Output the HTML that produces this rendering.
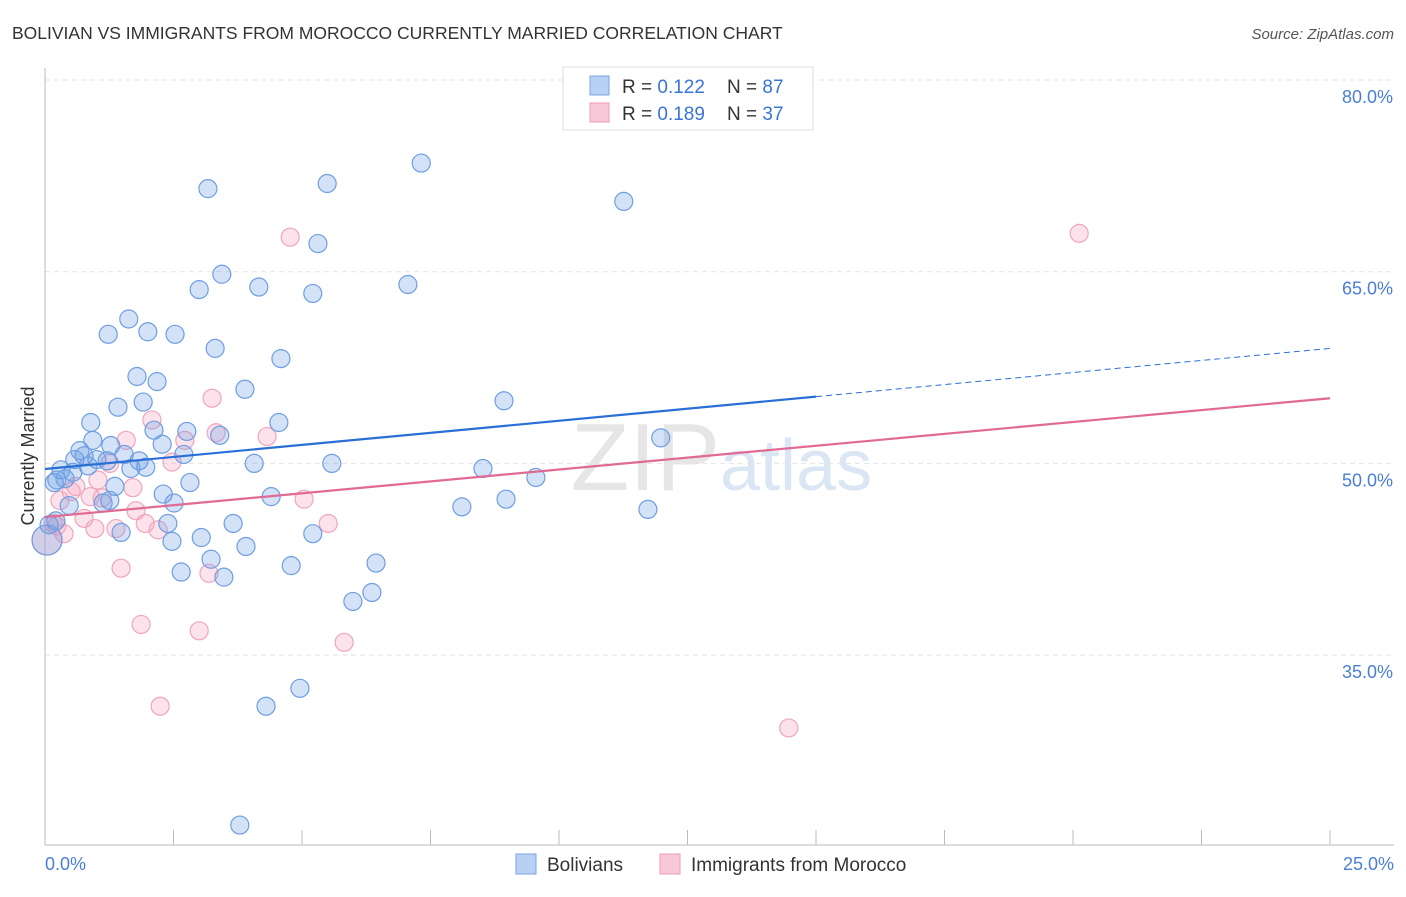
<!DOCTYPE html>
<html><head><meta charset="utf-8"><style>
body{margin:0;background:#fff;font-family:"Liberation Sans",sans-serif;}
svg text{font-family:"Liberation Sans",sans-serif;}
</style></head><body>
<svg id="chart" width="1406" height="892" xmlns="http://www.w3.org/2000/svg">
<text x="12" y="39" font-size="17.5" fill="#333">BOLIVIAN VS IMMIGRANTS FROM MOROCCO CURRENTLY MARRIED CORRELATION CHART</text>
<text x="1394" y="39" font-size="15" fill="#555" font-style="italic" text-anchor="end">Source: ZipAtlas.com</text>
<text x="720" y="490" font-size="96" fill="#e6e6e6" text-anchor="end" font-family="Liberation Serif">ZIP</text>
<text x="720" y="490" font-size="72" fill="#dbe6f5">atlas</text>
<g id="grid"></g><g id="axes"></g>
<g id="pts"></g><g id="lines"></g>
<text transform="translate(34,456) rotate(-90)" font-size="18" fill="#333" text-anchor="middle">Currently Married</text>
<g>
<rect x="563" y="67" width="250" height="63" fill="#fff" stroke="#ddd"/>
<rect x="590" y="76" width="19" height="19" fill="#b8d0f3" stroke="#7aa3e0"/>
<text x="622" y="93" font-size="19" fill="#333">R = <tspan fill="#3a74d9">0.122</tspan></text>
<text x="727" y="93" font-size="19" fill="#333">N = <tspan fill="#3a74d9">87</tspan></text>
<rect x="590" y="103" width="19" height="19" fill="#f9c8d8" stroke="#ee9bb7"/>
<text x="622" y="120" font-size="19" fill="#333">R = <tspan fill="#3a74d9">0.189</tspan></text>
<text x="727" y="120" font-size="19" fill="#333">N = <tspan fill="#3a74d9">37</tspan></text>
</g>
<g>
<rect x="516" y="854" width="20" height="20" fill="#b8d0f3" stroke="#7aa3e0"/>
<text x="547" y="871" font-size="19" fill="#333">Bolivians</text>
<text x="691" y="871" font-size="19" fill="#333">Immigrants from Morocco</text>
<rect x="660" y="854" width="20" height="20" fill="#f9c8d8" stroke="#ee9bb7"/>
</g>
</svg>
<script>
const blueX=[7.32,5.49,3.17,11.26,5.31,3.44,4.16,3.0,5.21,7.06,1.63,1.23,2.0,2.53,3.31,4.59,1.79,2.18,3.89,1.42,1.91,8.93,0.89,4.55,2.12,2.76,3.40,0.93,1.28,2.28,2.70,0.68,0.76,1.01,1.54,1.83,1.96,1.67,4.07,5.58,11.98,8.52,9.55,0.31,0.54,0.39,0.18,1.36,2.82,2.30,4.40,8.97,1.13,2.51,0.47,8.11,11.73,0.21,2.39,3.66,1.48,2.47,3.04,3.91,5.21,3.23,6.44,4.79,2.65,3.48,6.36,5.99,4.96,4.30,3.79,0.23,0.84,0.08,1.21,0.58,1.26,0.04];
const blueY=[73.5,71.9,71.5,70.5,67.2,64.8,63.8,63.6,63.3,64.0,61.3,60.1,60.3,60.1,59.0,58.2,56.8,56.4,55.8,54.4,54.8,54.9,53.2,53.2,52.6,52.5,52.2,51.8,51.4,51.5,50.7,51.0,50.6,50.3,50.7,50.2,49.7,49.6,50.0,50.0,52.0,49.6,48.9,49.5,49.3,48.8,48.5,48.2,48.5,47.6,47.4,47.2,46.9,46.9,46.7,46.6,46.4,45.5,45.3,45.3,44.6,43.9,44.2,43.5,44.5,42.5,42.2,42.0,41.5,41.1,39.9,39.2,32.4,31.0,21.7,48.7,49.8,45.2,50.2,50.3,47.1,44.0];
const pinkX=[20.12,4.77,3.25,2.08,1.58,2.72,3.33,4.32,2.47,1.26,1.03,1.71,0.51,0.88,1.11,0.29,5.04,1.77,0.76,1.95,0.23,0.97,2.20,1.38,5.51,0.37,1.48,3.19,1.87,3.0,5.82,2.24,14.47,0.16,0.60,0.04];
const pinkY=[68.0,67.7,55.1,53.4,51.8,51.8,52.4,52.1,50.1,50.0,48.7,48.1,47.8,47.4,47.3,47.1,47.2,46.3,45.7,45.3,45.1,44.9,44.8,44.9,45.3,44.5,41.8,41.4,37.4,36.9,36.0,31.0,29.3,45.3,48.2,44.0];
const yTicks=[80,65,50,35];
const xTickLabels=["0.0%","25.0%"];
const blueTrend=[49.56,59.0];
const pinkTrend=[45.8,55.1];
const blueSolidEnd=15;
const NS="http://www.w3.org/2000/svg";
const sx=v=>45+v*51.4;
const sy=v=>80+(80-v)*12.78;
function mk(tag,attrs,parent){const e=document.createElementNS(NS,tag);for(const k in attrs)e.setAttribute(k,attrs[k]);parent.appendChild(e);return e;}
const grid=document.getElementById('grid'),axes=document.getElementById('axes'),pts=document.getElementById('pts'),lines=document.getElementById('lines');
yTicks.forEach(t=>{
 const l=mk('line',{x1:45,x2:1394,y1:sy(t),y2:sy(t),stroke:'#e4e4e4','stroke-dasharray':'5,4'},grid);
 
 
 const tx=mk('text',{x:1393,y:sy(t)+23,'font-size':18,fill:'#4a7fd6','text-anchor':'end'},grid);
 tx.textContent=t.toFixed(1)+'%';
 
 
});
const ya=mk('line',{x1:45,x2:45,y1:68,y2:845,stroke:'#bbb'},axes);


const xa=mk('line',{x1:45,x2:1394,y1:845,y2:845,stroke:'#bbb'},axes);


for(let i=0;i<=10;i++){
 const v=i*2.5;
 const tk=mk('line',{x1:sx(v),x2:sx(v),y1:830,y2:845,stroke:'#bbb'},axes);
 
 
}
[[0,'start',45],[1,'end',1394]].forEach(([i,a,x])=>{
 const t=mk('text',{x:x,y:870,'font-size':18,fill:'#4a7fd6','text-anchor':a},axes);
 t.textContent=xTickLabels[i];
 
 
});
function dots(X,Y,fill,stroke,name){
 X.forEach((x,i)=>{
  const big=(i===X.length-1);
  const c=mk('circle',{cx:sx(x),cy:sy(Y[i]),r:big?15:9,fill:fill,stroke:stroke,'stroke-width':1.2},pts);
  
  
 });
}
dots(pinkX,pinkY,'rgba(244,160,190,0.3)','#f0a5bf','point-morocco');
dots(blueX,blueY,'rgba(110,160,230,0.3)','#6e9ee0','point-bolivians');
const yb=v=>blueTrend[0]+(blueTrend[1]-blueTrend[0])*v/25;
const bl=mk('line',{x1:sx(0),y1:sy(yb(0)),x2:sx(blueSolidEnd),y2:sy(yb(blueSolidEnd)),stroke:'#2a6fd6','stroke-width':2.2},lines);


const bd=mk('line',{x1:sx(blueSolidEnd),y1:sy(yb(blueSolidEnd)),x2:sx(25),y2:sy(yb(25)),stroke:'#2a6fd6','stroke-width':1,'stroke-dasharray':'6,4'},lines);


const pl=mk('line',{x1:sx(0),y1:sy(pinkTrend[0]),x2:sx(25),y2:sy(pinkTrend[1]),stroke:'#e06a94','stroke-width':2.2},lines);


</script>
</body></html>
